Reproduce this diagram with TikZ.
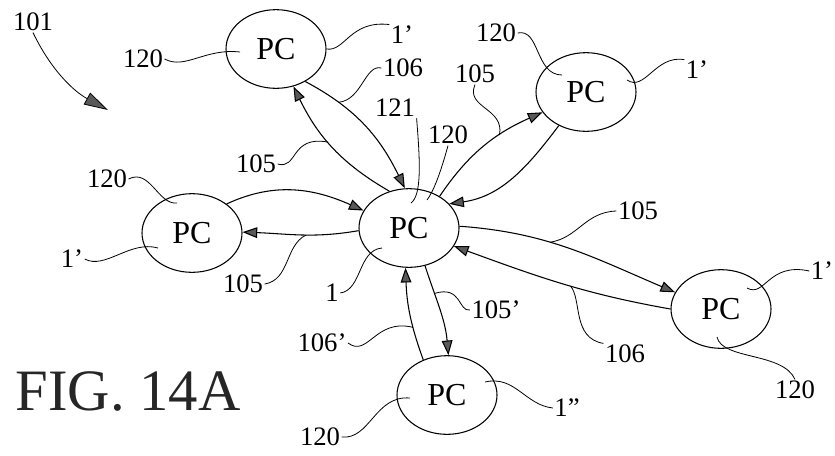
\documentclass[tikz,border=0pt]{standalone}
\usepackage{fontspec}
\setmainfont{Liberation Serif}
\usetikzlibrary{shapes.geometric, arrows.meta, calc}
\tikzset{
  pc/.style={ellipse, draw, line width=0.8pt, minimum width=75pt, minimum height=59pt, inner sep=0pt, font=\fontsize{24}{24}\selectfont},
  link/.style={line width=0.8pt, -{Triangle[length=11pt, width=8pt, fill=black!65]}},
  lead/.style={line width=0.6pt},
  lbl/.style={inner sep=1pt, font=\fontsize{20}{20}\selectfont},
}

\begin{document}
\begin{tikzpicture}[x=0.75pt, y=0.75pt]
  \useasboundingbox (0,0) rectangle (835,-455);

  % computers
  \node[pc] (c)  at (409,-228) {PC};
  \node[pc] (t)  at (276,-49)  {PC};
  \node[pc] (r1) at (586,-92)  {PC};
  \node[pc] (l)  at (192,-233) {PC};
  \node[pc] (r2) at (721,-309) {PC};
  \node[pc] (b)  at (447,-395) {PC};

  % links
  \draw[link] (c.118) to[out=150, in=-64] coordinate[pos=0.55] (m105t) (t.-65);
  \draw[link] (t.-48) to[out=-28, in=116] coordinate[pos=0.25] (m106t) (c.96);
  \draw[link] (c.46) to[out=56, in=204] coordinate[pos=0.65] (m105r1) (r1.205);
  \draw[link] (r1.231) to[out=-127, in=8] (c.31);
  \draw[link] (l.40) to[out=25, in=156] (c.159);
  \draw[link] (c.183) to[out=190, in=-2] coordinate[pos=0.45] (m105l) (l.1);
  \draw[link] (c.2) to[out=-4, in=157] coordinate[pos=0.4] (m105r2) (r2.160);
  \draw[link] (r2.180) to[out=170, in=-20] coordinate[pos=0.45] (m106r2) (c.-22);
  \draw[link] (b.124) to[out=110, in=-88] coordinate[pos=0.35] (m106b) (c.-95);
  \draw[link] (c.-67) to[out=-72, in=95] coordinate[pos=0.3] (m105b) (b.88);

  % reference labels
  \node[lbl] (l101)   at (33,-22)   {101};
  \node[lbl] (lt120)  at (143,-59)  {120};
  \node[lbl] (lt1)    at (402,-35)  {1'};
  \node[lbl] (l106t)  at (403,-68)  {106};
  \node[lbl] (l121)   at (395,-108) {121};
  \node[lbl] (lc120)  at (448,-135) {120};
  \node[lbl] (l105r1) at (475,-74)  {105};
  \node[lbl] (lr1120) at (496,-33)  {120};
  \node[lbl] (lr11)   at (697,-70)  {1'};
  \node[lbl] (ll120)  at (107,-179) {120};
  \node[lbl] (l105t)  at (256,-164) {105};
  \node[lbl] (ll1)    at (72,-259)  {1'};
  \node[lbl] (l105l)  at (243,-284) {105};
  \node[lbl] (lc1)    at (332,-293) {1};
  \node[lbl] (l106b)  at (322,-343) {106'};
  \node[lbl] (l105b)  at (496,-310) {105'};
  \node[lbl] (l105r2) at (638,-211) {105};
  \node[lbl] (l106r2) at (625,-354) {106};
  \node[lbl] (lr21)   at (822,-271) {1'};
  \node[lbl] (lr2120) at (795,-390) {120};
  \node[lbl] (lb1)    at (567,-408) {1"};
  \node[lbl] (lb120)  at (320,-437) {120};
  \node[font=\fontsize{44}{44}\selectfont, text=black!85] (fig) at (128,-391) {FIG. 14A};

  % leaders
  \coordinate (a101) at (108,-110);
  \draw[lead, -{Triangle[length=18pt, width=10pt, fill=black!65]}] (l101.south) .. controls (52,-72) and (75,-92) .. (a101);
  \draw[lead] (lt120.east) .. controls (185,-70) and (205,-48) .. ($(t)+(-36,-3)$);
  \draw[lead] (t.east) .. controls (345,-52) and (350,-20) .. (lt1.north west);
  \draw[lead] (l106t.west) .. controls (365,-64) and (362,-100) .. (m106t);
  \draw[lead] (l121.south east) .. controls (420,-160) and (422,-195) .. ($(c)+(2,25)$);
  \draw[lead] (lc120.south) .. controls (440,-175) and (433,-192) .. ($(c)+(18,28)$);
  \draw[lead] (l105r1.south) .. controls (465,-108) and (505,-108) .. (m105r1);
  \draw[lead] (lr1120.east) .. controls (540,-28) and (535,-75) .. ($(r1)+(-24,17)$);
  \draw[lead] ($(r1)+(41,12)$) .. controls (645,-92) and (655,-55) .. (lr11.north west);
  \draw[lead] (ll120.east) .. controls (150,-168) and (158,-205) .. ($(l)+(-15,30)$);
  \draw[lead] (l105t.east) .. controls (298,-170) and (290,-135) .. (m105t);
  \draw[lead] (ll1.east) .. controls (105,-270) and (130,-240) .. ($(l)+(-34,-15)$);
  \draw[lead] (l105l.east) .. controls (290,-280) and (285,-245) .. (m105l);
  \draw[lead] (lc1.east) .. controls (362,-290) and (358,-250) .. ($(c)+(-27,-20)$);
  \draw[lead] (l106b.east) .. controls (368,-358) and (375,-318) .. (m106b);
  \draw[lead] (l105b.west) .. controls (458,-312) and (462,-285) .. (m105b);
  \draw[lead] (l105r2.west) .. controls (585,-212) and (578,-238) .. (m105r2);
  \draw[lead] (l106r2.north west) .. controls (572,-338) and (582,-300) .. (m106r2);
  \draw[lead] ($(r2)+(26,21)$) .. controls (765,-298) and (768,-262) .. (lr21.west);
  \draw[lead] (lr2120.north) .. controls (783,-352) and (722,-360) .. ($(r2)+(-4,-28)$);
  \draw[lead] (lb1.west) .. controls (525,-405) and (515,-375) .. ($(b)+(38,13)$);
  \draw[lead] (lb120.east) .. controls (370,-440) and (375,-395) .. ($(b)+(-37,-3)$);
\end{tikzpicture}
\end{document}
